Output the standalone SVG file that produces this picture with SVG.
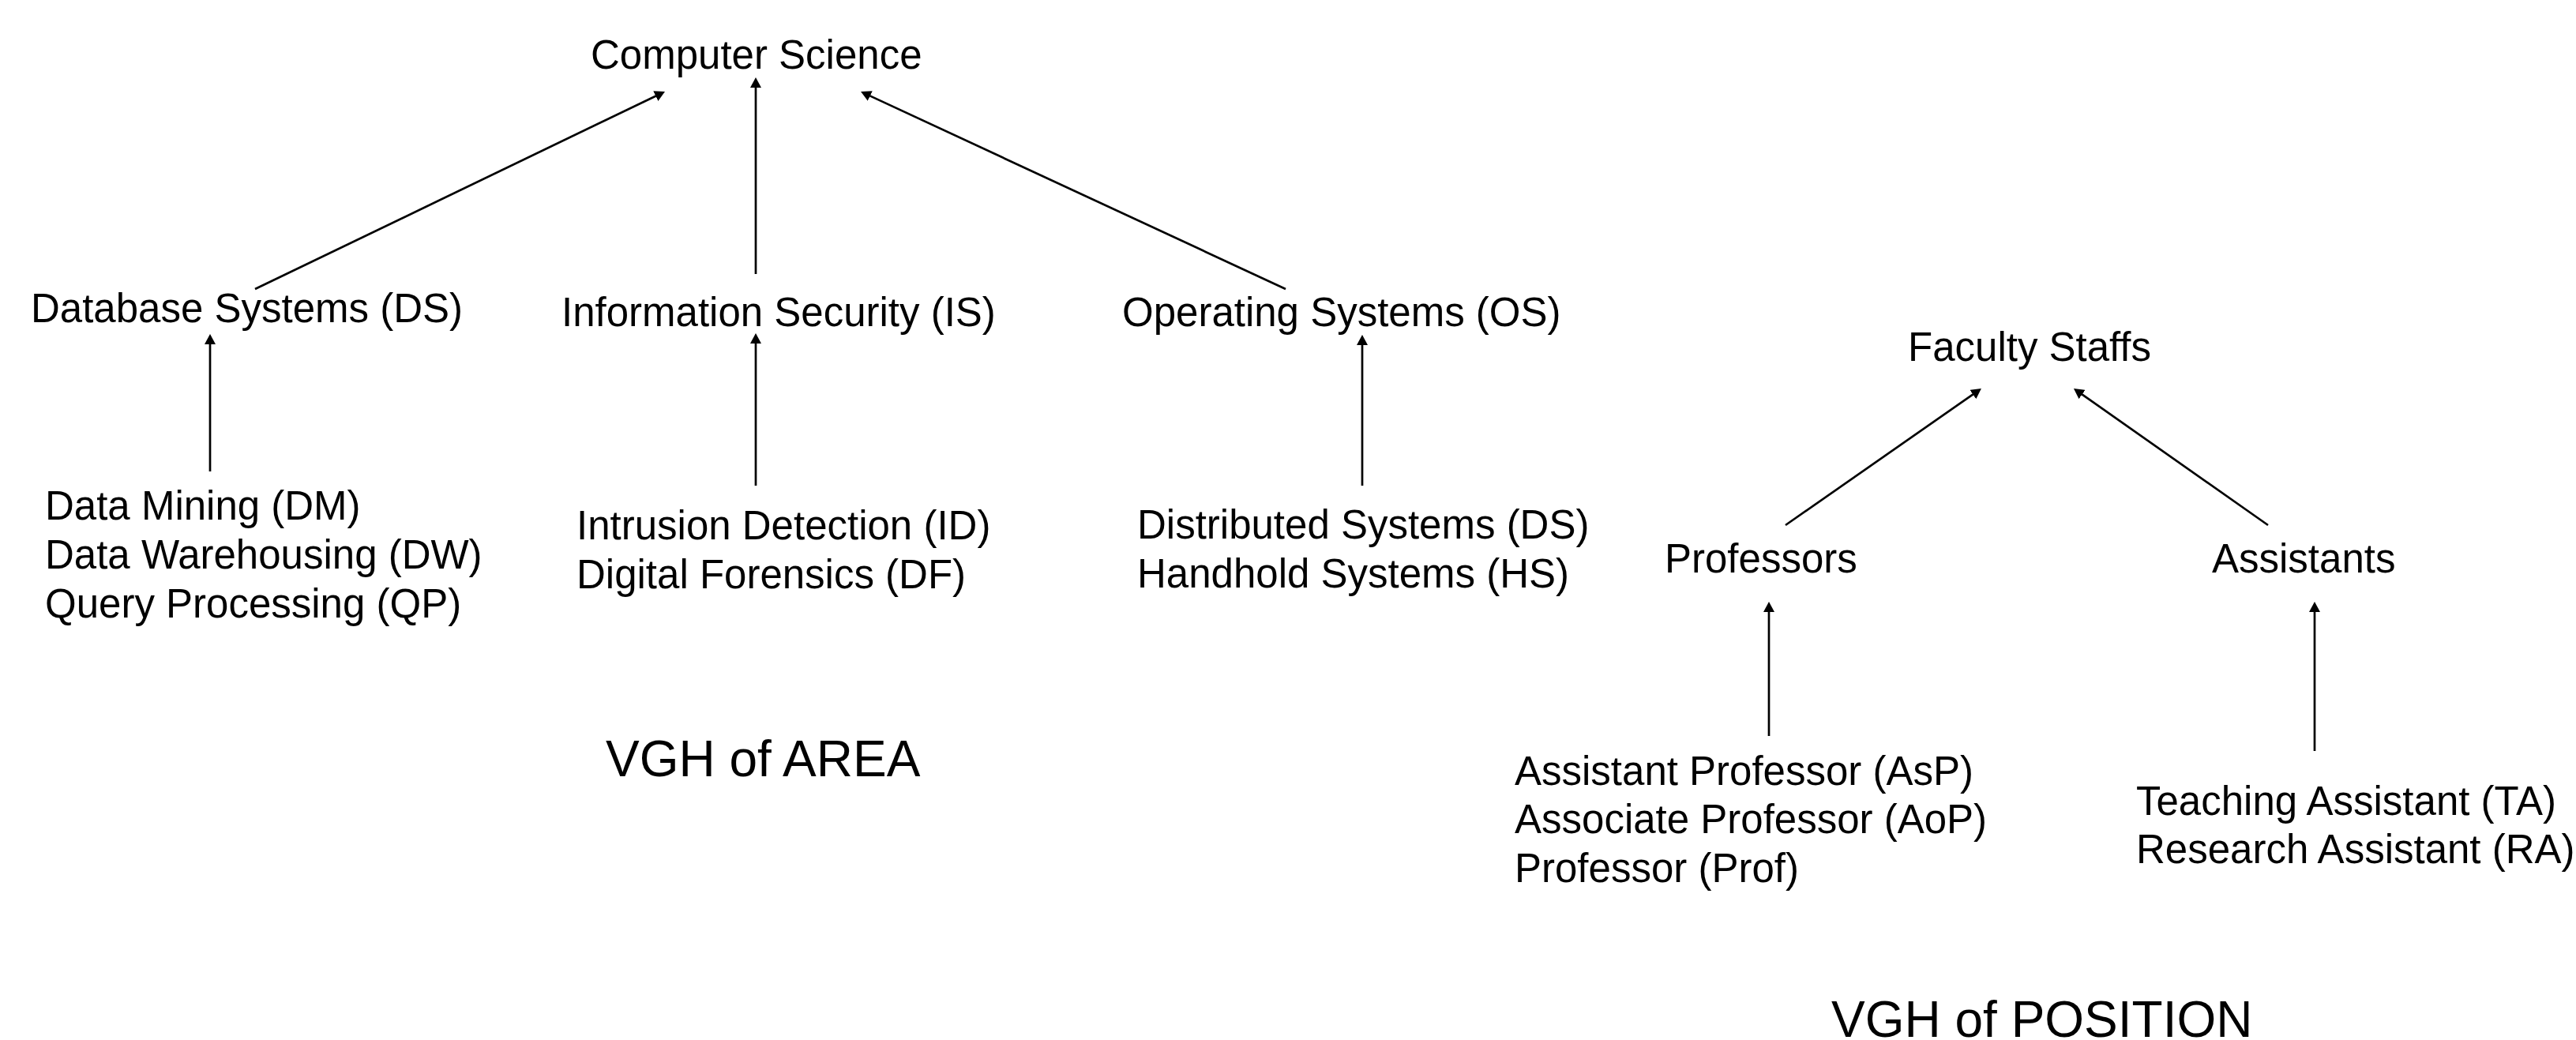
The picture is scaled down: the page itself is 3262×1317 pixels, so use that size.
<svg xmlns="http://www.w3.org/2000/svg" width="3262" height="1317" viewBox="0 0 3262 1317">
<style>
  text { font-family: "Liberation Sans", Arial, sans-serif; font-size: 51px; fill: #000; }
  .title { font-size: 64px; }
  .edge { stroke: #000; stroke-width: 2.7; fill: none; marker-end: url(#arrow); }
</style>
<defs>
  <marker id="arrow" markerUnits="userSpaceOnUse" markerWidth="14" markerHeight="14" refX="5" refY="7" orient="auto">
    <path d="M0,0 L13,7 L0,14 z" fill="#000"/>
  </marker>
</defs>
<rect width="3262" height="1317" fill="#fff"/>
<g id="connectors">
  <line class="edge" x1="323" y1="366" x2="834.8" y2="119.5"/>
  <line class="edge" x1="957" y1="347" x2="957" y2="106"/>
  <line class="edge" x1="1628" y1="366" x2="1097.3" y2="119.4"/>
  <line class="edge" x1="266" y1="597" x2="266" y2="431"/>
  <line class="edge" x1="957" y1="615" x2="957" y2="430"/>
  <line class="edge" x1="1725" y1="615" x2="1725" y2="432"/>
  <line class="edge" x1="2261" y1="665" x2="2502.4" y2="496.6"/>
  <line class="edge" x1="2872" y1="665" x2="2632.5" y2="496.6"/>
  <line class="edge" x1="2240" y1="932" x2="2240" y2="770"/>
  <line class="edge" x1="2931" y1="951" x2="2931" y2="770"/>
</g>
<g id="cs"><text x="748" y="87">Computer Science</text></g>
<g id="ds"><text x="39" y="408">Database Systems (DS)</text></g>
<g id="is"><text x="711" y="413">Information Security (IS)</text></g>
<g id="os"><text x="1421" y="413">Operating Systems (OS)</text></g>
<g id="ds-leaves">
  <text x="57" y="658">Data Mining (DM)</text>
  <text x="57" y="720">Data Warehousing (DW)</text>
  <text x="57" y="782">Query Processing (QP)</text>
</g>
<g id="is-leaves">
  <text x="730" y="683">Intrusion Detection (ID)</text>
  <text x="730" y="745">Digital Forensics (DF)</text>
</g>
<g id="os-leaves">
  <text x="1440" y="682">Distributed Systems (DS)</text>
  <text x="1440" y="744">Handhold Systems (HS)</text>
</g>
<g id="area-title"><text class="title" x="767" y="983">VGH of AREA</text></g>
<g id="fs"><text x="2416" y="457">Faculty Staffs</text></g>
<g id="prof"><text x="2108" y="725">Professors</text></g>
<g id="asst"><text x="2801" y="725">Assistants</text></g>
<g id="prof-leaves">
  <text x="1918" y="994">Assistant Professor (AsP)</text>
  <text x="1918" y="1055">Associate Professor (AoP)</text>
  <text x="1918" y="1117">Professor (Prof)</text>
</g>
<g id="asst-leaves">
  <text x="2705" y="1032">Teaching Assistant (TA)</text>
  <text x="2705" y="1093">Research Assistant (RA)</text>
</g>
<g id="position-title"><text class="title" x="2319" y="1313">VGH of POSITION</text></g>
</svg>
